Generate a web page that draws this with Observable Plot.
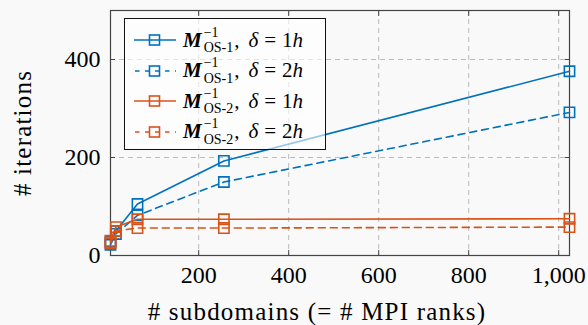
<!DOCTYPE html>
<html>
<head>
<meta charset="utf-8">
<script src="https://cdn.jsdelivr.net/npm/d3@7"></script>
<script src="https://cdn.jsdelivr.net/npm/@observablehq/plot@0.6"></script>
<style>
  html, body { margin: 0; padding: 0; background: #f9f9f9; }
  #wrap { position: relative; width: 588px; height: 325px; font-family: 'Liberation Serif'; }
  #legend { position: absolute; left: 124px; top: 18px; width: 202px; height: 132px;
    border: 1px solid #111; background: rgba(255,255,255,0.6); box-sizing: border-box; }
  .row { position: absolute; left: 8px; height: 26px; display: flex; align-items: center; font-size: 21px; line-height: 1; color: #000; white-space: nowrap; font-family: 'Liberation Serif'; }
  .row svg { margin-right: 6px; }
  .M { font-weight: bold; font-style: italic; }
  .ss { display: inline-flex; flex-direction: column; line-height: 0.8; font-size: 14px; margin-left: 2px; margin-right: 1px; }
  .ss .sup { position: relative; top: -2px; }
  .ss .sub { position: relative; top: 2px; }
  .sp { display: inline-block; }
</style>
</head>
<body>
<div id="wrap"></div>
<script>
const subdomains = [4, 16, 64, 256, 1024];
const os1_1h = [28, 50, 105, 193, 376];
const os1_2h = [22, 44, 82, 150, 292];
const os2_1h = [30, 58, 74, 74, 75];
const os2_2h = [25, 50, 56, 56, 58];
const xTicks = [200, 400, 600, 800, 1000];
const yTicks = [0, 200, 400];
const seriesNames = ["OS-1, 1h", "OS-1, 2h", "OS-2, 1h", "OS-2, 2h"];

const blue = "#0072BD", orange = "#D95319";
const series = [
  {name: seriesNames[0], vals: os1_1h, color: blue, dash: null, sub: "OS-1", d: "1"},
  {name: seriesNames[1], vals: os1_2h, color: blue, dash: "7,5", sub: "OS-1", d: "2"},
  {name: seriesNames[2], vals: os2_1h, color: orange, dash: null, sub: "OS-2", d: "1"},
  {name: seriesNames[3], vals: os2_2h, color: orange, dash: "7,5", sub: "OS-2", d: "2"}
];

const ff = "Liberation Serif";
const marks = [
  Plot.gridX(xTicks, {stroke: "#bbb", strokeOpacity: 1, strokeDasharray: "5,4"}),
  Plot.gridY(yTicks.filter(d => d > 0), {stroke: "#bbb", strokeOpacity: 1, strokeDasharray: "5,4"}),
  Plot.frame({stroke: "#444", strokeWidth: 1.2}),
  Plot.axisX(xTicks, {anchor: "bottom", tickSize: -5, text: null, stroke: "#444", label: null}),
  Plot.axisX(xTicks, {anchor: "top", tickSize: -5, text: null, stroke: "#444", label: null}),
  Plot.axisY(yTicks, {anchor: "left", tickSize: -5, text: null, stroke: "#444", label: null}),
  Plot.axisY(yTicks, {anchor: "right", tickSize: -5, text: null, stroke: "#444", label: null}),
  Plot.axisX(xTicks, {anchor: "bottom", tickSize: 0, tickPadding: 10, fontSize: 24, fontFamily: ff, tickFormat: d3.format(","), label: null, fill: "#000"}),
  Plot.axisY(yTicks, {anchor: "left", tickSize: 0, tickPadding: 10, fontSize: 24, fontFamily: ff, label: null, fill: "#000"}),
  Plot.text(["# subdomains (= # MPI ranks)"], {frameAnchor: "bottom", textAnchor: "middle", lineAnchor: "middle", dy: 56, dx: -23, fontSize: 25, fontFamily: ff, fill: "#000", className: "axlabel"}),
  Plot.text(["# iterations"], {frameAnchor: "left", textAnchor: "middle", lineAnchor: "middle", dx: -88, rotate: -90, fontSize: 25, fontFamily: ff, fill: "#000", className: "axlabel"})
];
for (const s of series) {
  const data = subdomains.map((x, i) => ({x, y: s.vals[i]}));
  marks.push(Plot.line(data, {x: "x", y: "y", stroke: s.color, strokeWidth: 1.6, strokeDasharray: s.dash}));
  marks.push(Plot.dot(data, {x: "x", y: "y", symbol: "square", r: 5.8, stroke: s.color, strokeWidth: 1.6, fill: "none"}));
}

const chart = Plot.plot({
  width: 588, height: 325,
  marginLeft: 110, marginRight: 19, marginTop: 10, marginBottom: 70,
  style: {background: "transparent", overflow: "visible", fontFamily: ff},
  x: {domain: [4, 1024]},
  y: {domain: [0, 500]},
  marks
});
d3.select(chart).selectAll(".axlabel text").style("letter-spacing", "1.2px");
const wrap = document.getElementById("wrap");
wrap.appendChild(chart);

const legend = document.createElement("div");
legend.id = "legend";
series.forEach((s, i) => {
  const row = document.createElement("div");
  row.className = "row";
  row.style.top = (8 + i * 30.5) + "px";
  const dashAttr = s.dash ? `stroke-dasharray="4.5,5.5" stroke-dashoffset="-1"` : "";
  row.innerHTML = `<svg width="44" height="14"><line x1="1" x2="43" y1="7" y2="7" stroke="${s.color}" stroke-width="1.6" ${dashAttr}/><rect x="16.5" y="2" width="10" height="10" fill="none" stroke="${s.color}" stroke-width="1.6"/></svg>` +
    `<span class="M">M</span><span class="ss"><span class="sup">&minus;1</span><span class="sub">${s.sub}</span></span>,<span class="sp" style="width:9px"></span><i>δ</i><span class="sp" style="width:6px"></span>=<span class="sp" style="width:6px"></span>${s.d}<i>h</i>`;
  legend.appendChild(row);
});
wrap.appendChild(legend);
</script>
</body>
</html>
